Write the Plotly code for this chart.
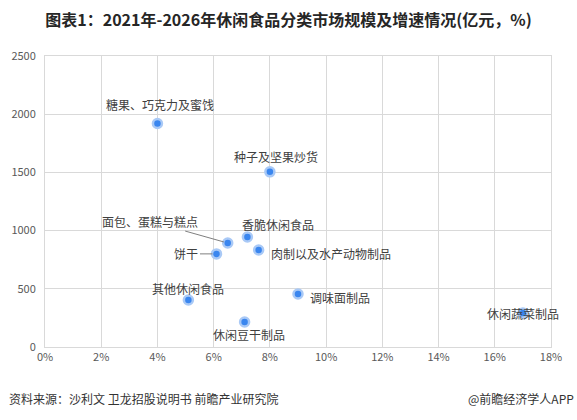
import plotly.graph_objects as go

# dados (crescimento %, mercado em 亿元)
categorias = ["糖果、巧克力及蜜饯", "种子及坚果炒货", "面包、蛋糕与糕点", "香脆休闲食品",
              "饼干", "肉制以及水产动物制品", "其他休闲食品", "调味面制品",
              "休闲豆干制品", "休闲蔬菜制品"]
crescimento = [4.0, 8.0, 6.5, 7.2, 6.1, 7.6, 5.1, 9.0, 7.1, 17.0]
mercado = [1920, 1505, 893, 945, 800, 833, 404, 455, 215, 292]

x_ticks = [0, 2, 4, 6, 8, 10, 12, 14, 16, 18]
x_labels = [f"{v}%" for v in x_ticks]
y_ticks = [0, 500, 1000, 1500, 2000, 2500]

FONT = "Noto Sans CJK SC"
COLORS = {
    "dot": "#3a86ef",
    "halo": "#a9c9f6",
    "grid": "#d9d9d9",
    "text": "#404040",
    "tick": "#595959",
}

# posição dos rótulos: (xanchor, yanchor, xshift, yshift, ax, ay)
LABEL_POS = {
    "糖果、巧克力及蜜饯": ("center", "middle", 3, 19, None, None),
    "种子及坚果炒货": ("center", "middle", 6, 15, None, None),
    "面包、蛋糕与糕点": ("center", "middle", 0, 0, -78, -22),
    "香脆休闲食品": ("left", "middle", -7, 13, None, None),
    "饼干": ("center", "middle", 0, 0, -30, 0),
    "肉制以及水产动物制品": ("left", "middle", 10, -3, None, None),
    "其他休闲食品": ("center", "middle", 0, 11, None, None),
    "调味面制品": ("left", "middle", 10, -3, None, None),
    "休闲豆干制品": ("center", "middle", 4, -13, None, None),
    "休闲蔬菜制品": ("center", "middle", 0, 0, None, None),
}

fig = go.Figure(go.Scatter(
    x=crescimento,
    y=mercado,
    mode="markers",
    marker=dict(size=9, color=COLORS["dot"], line=dict(width=2.5, color=COLORS["halo"])),
    hovertext=categorias,
    showlegend=False,
))

annotations = []
for nome, xv, yv in zip(categorias, crescimento, mercado):
    xa, ya, xs, ys, ax, ay = LABEL_POS[nome]
    ann = dict(x=xv, y=yv, xref="x", yref="y", text=nome,
               font=dict(family=FONT, size=12, color=COLORS["text"]))
    if ax is None:
        ann.update(showarrow=False, xanchor=xa, yanchor=ya, xshift=xs, yshift=ys)
    else:
        ann.update(showarrow=True, arrowhead=0, arrowwidth=1, arrowcolor="#7f7f7f",
                   ax=ax, ay=ay, standoff=4)
    annotations.append(ann)

# rodapé (posições em pixels convertidas para coordenadas paper)
pw = 577 - 45 - 26
ph = 420 - 56 - 73
y_rodape = (420 - 73 - 398) / ph
annotations.append(dict(x=(7 - 45) / pw, y=y_rodape, xref="paper", yref="paper",
                        text="资料来源：沙利文 卫龙招股说明书 前瞻产业研究院",
                        showarrow=False, xanchor="left", yanchor="middle",
                        font=dict(family=FONT, size=12, color="#333333")))
annotations.append(dict(x=(576 - 45) / pw, y=y_rodape, xref="paper", yref="paper",
                        text="@前瞻经济学人APP", showarrow=False, xanchor="right", yanchor="middle",
                        font=dict(family=FONT, size=12, color="#333333")))

fig.update_layout(
    width=577,
    height=420,
    margin=dict(l=45, r=26, t=56, b=73),
    paper_bgcolor="white",
    plot_bgcolor="white",
    font=dict(family=FONT, size=11, color=COLORS["tick"]),
    title=dict(text="<b>图表1：2021年-2026年休闲食品分类市场规模及增速情况(亿元，%)</b>",
               x=0.5, xanchor="center", y=0.952, yanchor="middle",
               font=dict(family=FONT, size=16, color="#262626")),
    annotations=annotations,
)

fig.update_xaxes(range=[0, 18], tickvals=x_ticks, ticktext=x_labels,
                 showgrid=True, gridcolor=COLORS["grid"], gridwidth=1,
                 showline=True, linecolor=COLORS["grid"], mirror=True,
                 zeroline=False, ticks="", fixedrange=True)
fig.update_yaxes(range=[0, 2500], tickvals=y_ticks,
                 showgrid=True, gridcolor=COLORS["grid"], gridwidth=1,
                 showline=True, linecolor=COLORS["grid"], mirror=True,
                 zeroline=False, ticks="", ticklabelstandoff=6, automargin=False)

# sem margem do body, para o gráfico ocupar a janela inteira
fig.write_html("out.html", config={"displayModeBar": False},
               post_script="document.body.style.margin='0';")
